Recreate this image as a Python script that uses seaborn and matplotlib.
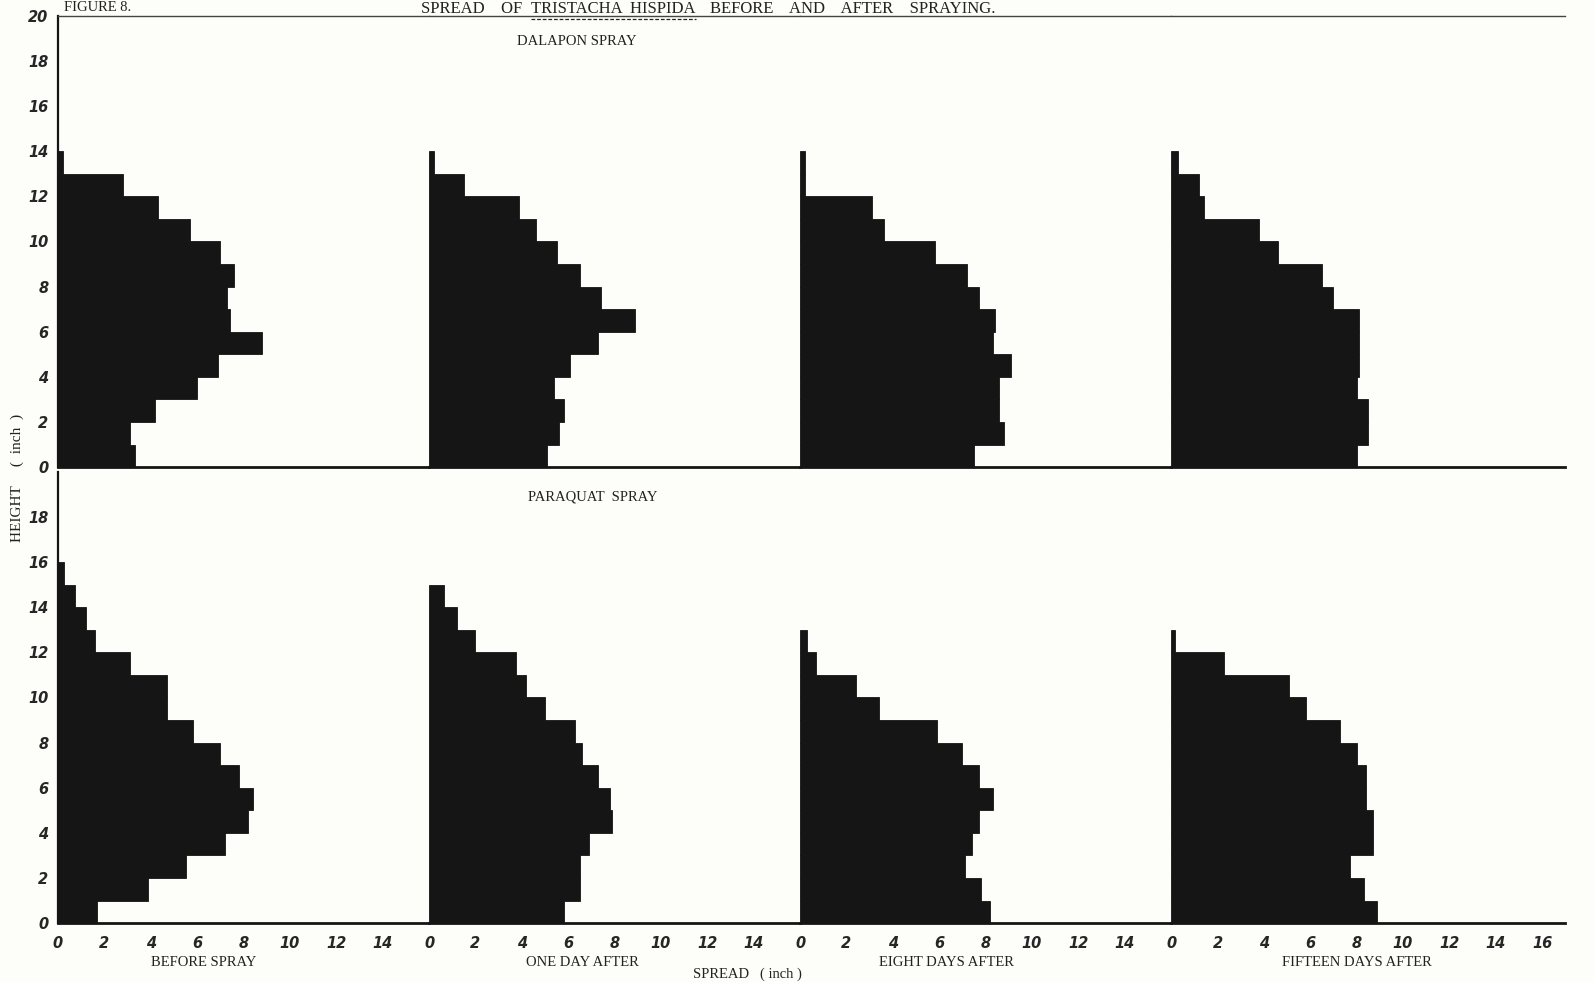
import numpy as np
import pandas as pd
import matplotlib
matplotlib.use("Agg")
import matplotlib.pyplot as plt
import seaborn as sns

# spread (inch) of each 1-inch height class, listed from the ground upwards
dalapon_before = [3.3, 3.1, 4.2, 6.0, 6.9, 8.8, 7.4, 7.3, 7.6, 7.0, 5.7, 4.3, 2.8, 0.2]
dalapon_one_day = [5.1, 5.6, 5.8, 5.4, 6.1, 7.3, 8.9, 7.4, 6.5, 5.5, 4.6, 3.9, 1.5, 0.2]
dalapon_eight_days = [7.5, 8.8, 8.6, 8.6, 9.1, 8.3, 8.4, 7.7, 7.2, 5.8, 3.6, 3.1, 0.2, 0.2]
dalapon_fifteen_days = [8.0, 8.5, 8.5, 8.0, 8.1, 8.1, 8.1, 7.0, 6.5, 4.6, 3.8, 1.4, 1.2, 0.3]

paraquat_before = [1.7, 3.9, 5.5, 7.2, 8.2, 8.4, 7.8, 7.0, 5.8, 4.7, 4.7, 3.1, 1.6, 1.2, 0.73, 0.26]
paraquat_one_day = [5.8, 6.5, 6.5, 6.9, 7.9, 7.8, 7.3, 6.6, 6.3, 5.0, 4.2, 3.75, 2.0, 1.2, 0.65]
paraquat_eight_days = [8.2, 7.8, 7.1, 7.4, 7.7, 8.3, 7.7, 7.0, 5.9, 3.4, 2.4, 0.7, 0.3]
paraquat_fifteen_days = [8.9, 8.3, 7.7, 8.7, 8.7, 8.4, 8.4, 8.0, 7.3, 5.8, 5.1, 2.3, 0.15]

stage_labels = ["BEFORE SPRAY", "ONE DAY AFTER", "EIGHT DAYS AFTER", "FIFTEEN DAYS AFTER"]
stage_label_x = [6.3, 6.6, 6.3, 8.0]
spray_labels = ["DALAPON SPRAY", "PARAQUAT  SPRAY"]

rows = [
    [dalapon_before, dalapon_one_day, dalapon_eight_days, dalapon_fifteen_days],
    [paraquat_before, paraquat_one_day, paraquat_eight_days, paraquat_fifteen_days],
]

sns.set_style("white")
plt.rcParams["font.family"] = ["Liberation Serif", "DejaVu Serif"]
paper = "#fdfdf9"
ink = "#151515"
txt = "#222222"
tickfont = dict(family="DejaVu Sans", weight="bold", style="italic", size=10.5)

fig, axes = plt.subplots(2, 4, figsize=(15.94, 9.82), dpi=100,
                         gridspec_kw=dict(width_ratios=[16, 16, 16, 17], wspace=0, hspace=0.01))
fig.subplots_adjust(left=0.0364, right=0.982, top=0.984, bottom=0.060)
fig.patch.set_facecolor(paper)

for r in range(2):
    for c in range(4):
        ax = axes[r, c]
        ax.set_facecolor(paper)
        widths = rows[r][c]
        df = pd.DataFrame({"spread": widths, "height": np.arange(len(widths)) + 0.5})
        sns.barplot(data=df, x="spread", y="height", orient="h", native_scale=True,
                    width=1, color=ink, saturation=1, edgecolor=ink, linewidth=0.6, ax=ax)
        ax.set_xlabel("")
        ax.set_ylabel("")
        last = c == 3
        ax.set_xlim(0, 17 if last else 16)
        ax.set_ylim(0, 20)
        ax.set_xticks(np.arange(0, 17 if last else 15, 2))
        ax.set_yticks(np.arange(0, 21 if r == 0 else 19, 2))
        ax.spines["right"].set_visible(False)
        if r == 0:
            ax.spines["top"].set_linewidth(1.0)
            ax.spines["top"].set_color("#444444")
        else:
            ax.spines["top"].set_visible(False)
        ax.spines["bottom"].set_linewidth(2)
        ax.spines["bottom"].set_color(ink)
        if c == 0:
            ax.spines["left"].set_linewidth(1.6)
            ax.spines["left"].set_color(ink)
            ax.tick_params(axis="y", length=5, width=1.5, color=ink, pad=2)
            ax.set_yticklabels([str(v) for v in ax.get_yticks().astype(int)], fontdict=tickfont)
        else:
            ax.spines["left"].set_visible(False)
            ax.tick_params(axis="y", left=False, labelleft=False)
        if r == 1:
            ax.tick_params(axis="x", length=5, width=1.5, color=ink, pad=4)
            ax.set_xticklabels([str(v) for v in ax.get_xticks().astype(int)], fontdict=tickfont)
            ax.text(stage_label_x[c], -1.75, stage_labels[c], ha="center", va="center",
                    fontsize=10.5, color=txt)
        else:
            ax.tick_params(axis="x", bottom=False, labelbottom=False)

fig.text(0.362, 0.958, spray_labels[0], ha="center", va="center", fontsize=10.5, color=txt)
fig.text(0.372, 0.494, spray_labels[1], ha="center", va="center", fontsize=10.5, color=txt)

# heading along the top edge, species name underlined
top_y = 0.9985
fig.text(0.061, top_y, "FIGURE 8.", ha="center", va="top", fontsize=10.5, color=txt)
species = fig.text(0.385, top_y, "TRISTACHA  HISPIDA", ha="center", va="top",
                   fontsize=12, color=txt)
renderer = fig.canvas.get_renderer()
bb = species.get_window_extent(renderer).transformed(fig.transFigure.inverted())
gap = 9 / 1594
fig.text(bb.x0 - gap, top_y, "SPREAD    OF", ha="right", va="top", fontsize=12, color=txt)
fig.text(bb.x1 + gap * 1.6, top_y, "BEFORE    AND    AFTER    SPRAYING.", ha="left", va="top",
         fontsize=12, color=txt)
fig.add_artist(plt.Line2D([bb.x0, bb.x1], [bb.y0 - 0.002, bb.y0 - 0.002],
                          transform=fig.transFigure, color=txt, lw=0.9, ls=(0, (3, 1.5))))

fig.text(0.469, 0.008, "SPREAD   ( inch )", ha="center", va="center", fontsize=10.5, color=txt)
fig.text(0.011, 0.513, "HEIGHT     (  inch  )", ha="center", va="center", rotation=90,
         fontsize=11, color=txt)

fig.savefig("out.png", dpi=100, facecolor=paper)
